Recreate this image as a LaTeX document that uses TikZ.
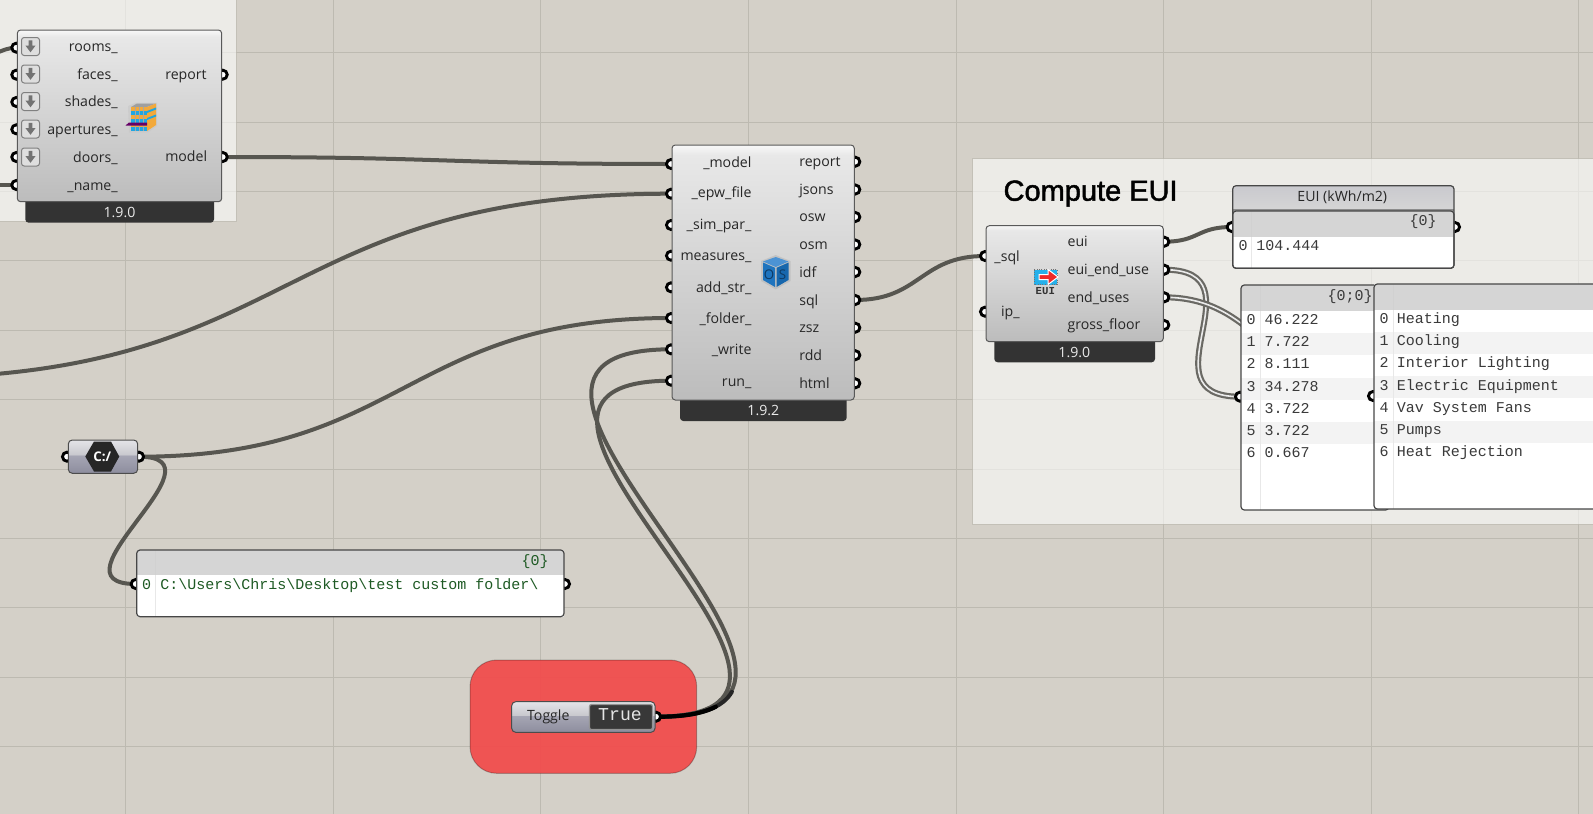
\documentclass[tikz,border=0pt]{standalone}
\usepackage{fontspec}
\setmainfont{Open Sans}
\newfontfamily\monof{Liberation Mono}
\newfontfamily\titlef[FakeBold=1.6]{Liberation Sans}
\usetikzlibrary{calc,shapes.geometric}
\definecolor{canvas}{HTML}{D4D0C8}
\definecolor{gridc}{HTML}{BDBAB1}
\definecolor{wirec}{HTML}{575650}
\definecolor{dwirec}{HTML}{6A6964}
\definecolor{foot}{HTML}{333333}
\definecolor{labc}{HTML}{262626}
\definecolor{monoc}{HTML}{3A3A3A}
\definecolor{greenc}{HTML}{1E5A24}
\definecolor{hdr}{HTML}{D5D5D5}
\definecolor{stripe}{HTML}{F3F3F3}
\definecolor{sep}{HTML}{E0E0E0}
\definecolor{ga}{HTML}{BCBCBC}
\definecolor{gb}{HTML}{E8E8E8}
\definecolor{gc}{HTML}{F8F8F8}
\definecolor{pa}{HTML}{8D8D9E}
\definecolor{pb}{HTML}{A6A6B4}
\definecolor{pc}{HTML}{C9C9CE}
\definecolor{pd}{HTML}{E4E4E8}
\definecolor{redg}{HTML}{F24B4B}
\definecolor{ostop}{HTML}{4C93D4}
\definecolor{osleft}{HTML}{1F74BE}
\definecolor{osright}{HTML}{1767AD}
\definecolor{ostext}{HTML}{0E3A63}
\definecolor{euiblue}{HTML}{25B0EA}
\definecolor{euired}{HTML}{EE2A2A}
\definecolor{bldor}{HTML}{F2A93B}
\definecolor{bldbl}{HTML}{1FA6E2}
\pgfdeclareverticalshading{ghbody}{100bp}{color(0bp)=(ga);color(25bp)=(ga);color(73bp)=(gb);color(75bp)=(gc);color(100bp)=(gc)}
\pgfdeclareverticalshading{ghparam}{100bp}{color(0bp)=(pa);color(25bp)=(pa);color(52bp)=(pb);color(53bp)=(pc);color(75bp)=(pd);color(100bp)=(pd)}
\pgfdeclareverticalshading{ghtitle}{100bp}{color(0bp)=(hdr);color(25bp)=(hdr);color(75bp)=(pc);color(100bp)=(pc)}
\pgfdeclarelayer{gridlayer}
\pgfdeclarelayer{wirelayer}
\pgfsetlayers{gridlayer,wirelayer,main}
\tikzset{
  x=0.75pt,y=-0.75pt,
  px/.style={line width=#1*0.75pt},
  boxbase/.style={rectangle,inner sep=0pt,outer sep=0pt},
  gridline/.style={draw=gridc,px=1},
  groupbox/.style={boxbase,fill=white,fill opacity=0.58,draw=gridc,draw opacity=0.7,px=1},
  redgroup/.style={boxbase,rounded corners=20pt,fill=redg,fill opacity=0.93,draw=black,draw opacity=0.25,px=1},
  compbody/.style={boxbase,rounded corners=2.5pt,shading=ghbody,draw=black!65,px=1},
  footbox/.style={boxbase,rounded corners=2.5pt,fill=foot},
  parambody/.style={boxbase,rounded corners=3pt,shading=ghparam,draw=black!70,px=1},
  panelbody/.style={boxbase,fill=white},
  port/.style={circle,inner sep=0pt,outer sep=0pt,minimum size=6.8pt,fill=white,draw=black,px=2.9},
  lab/.style={font=\fontsize{10.6}{12}\selectfont,text=labc,inner sep=0pt},
  labr/.style={lab,anchor=mid east,yshift=-0.9pt},
  labl/.style={lab,anchor=mid west,yshift=-0.9pt},
  foottext/.style={font=\fontsize{10.6}{12}\selectfont,text=white!92!black,inner sep=0pt},
  mono/.style={font=\monof\fontsize{11.25}{13}\selectfont,text=monoc,inner sep=0pt,yshift=-0.6pt},
  monol/.style={mono,anchor=mid west},
  monoc/.style={mono,anchor=mid},
  gmonol/.style={monol,text=greenc},
  gmonoc/.style={monoc,text=greenc},
  wire/.style={draw=wirec,px=4,line cap=round},
  dwirea/.style={draw=dwirec,px=6},
  dwireb/.style={draw=white!92!black,px=1.6},
  arrowbtn/.style={boxbase,rounded corners=2pt,minimum size=13.5pt,fill=black!13,draw=black!50,px=1},
  titlelab/.style={font=\titlef\fontsize{21.75}{24}\selectfont,text=black,inner sep=0pt,anchor=base west},
}
\newcommand{\placebox}[6]{\node[#1,anchor=north west,minimum width={(#5-#3)*0.75pt},minimum height={(#6-#4)*0.75pt}] (#2) at (#3,#4) {};}
\newcommand{\ghwire}[4][wire]{\draw[#1] (#2.center) .. controls ($(#2.center)+(#4,0)$) and ($(#3.center)+(-#4,0)$) .. (#3.center);}
\newcommand{\dblwire}[3]{\ghwire[dwirea]{#1}{#2}{#3}\ghwire[dwireb]{#1}{#2}{#3}}
\newcommand{\arrowbutton}[2]{%
  \node[arrowbtn] (#1) at (30.5,#2) {};
  \fill[black!55] ($(#1.center)+(-1.9,-6.2)$) -- ++(3.8,0) -- ++(0,5.2) -- ++(3.2,0) -- ++(-5.1,6.8) -- ++(-5.1,-6.8) -- ++(3.2,0) -- cycle;
}
\newcommand{\panelbg}[7]{%
  \placebox{panelbody}{#1}{#2}{#3}{#4}{#5}
  \begin{scope}
    \clip[rounded corners=2.5pt] (#2,#3) rectangle (#4,#5);
    \fill[hdr] (#2,#3) rectangle (#4,#7);
}
\newcommand{\panelend}[6]{%
    \draw[black!9,px=1.4] (#5,#6) -- (#5,#4);
    \draw[black!18,px=1.4] (#5,#2) -- (#5,#6);
  \end{scope}
  \draw[black!72,px=1.2,rounded corners=2.5pt] (#1,#2) rectangle (#3,#4);
}
\begin{document}
\begin{tikzpicture}
\useasboundingbox (0,0) rectangle (1593,814);
\begin{pgfonlayer}{gridlayer}
  \fill[canvas] (0,0) rectangle (1593,814);
  \foreach \gx in {125.5,333,540.5,748,956,1163.5,1371,1578.5} \draw[gridline] (\gx,0) -- (\gx,814);
  \foreach \gy in {52.7,122.1,191.5,260.9,330.3,399.7,469.1,538.5,607.9,677.3,746.7} \draw[gridline] (0,\gy) -- (1593,\gy);
  \placebox{groupbox}{grpa}{-10}{-10}{236}{221}
  \placebox{groupbox}{grpb}{972.7}{158.5}{1610}{524.3}
  \placebox{redgroup}{grpc}{470}{660}{696.7}{773.3}
\end{pgfonlayer}

\node[titlelab] (ttl) at (1003.3,200.7) {Compute EUI};

% ---------- component 1
\placebox{footbox}{fa}{25.3}{190}{214}{222.7}
\foreach \n/\py in {ra/47.7,rb/74.7,rc/102,rd/129.3,re/157,rf/185} \node[port] (\n) at (16.3,\py) {};
\node[port] (ro1) at (222.7,74.7) {};
\node[port] (ro2) at (222.7,157) {};
\placebox{compbody}{ca}{17.3}{30}{221.7}{201.7}
\node[foottext] (fat) at (119.5,212) {1.9.0};
\arrowbutton{ba1}{46.5}
\arrowbutton{ba2}{74}
\arrowbutton{ba3}{101.5}
\arrowbutton{ba4}{129}
\arrowbutton{ba5}{157}
\node[labr] (la1) at (118,47) {rooms\_};
\node[labr] (la2) at (118,74.5) {faces\_};
\node[labr] (la3) at (118,102) {shades\_};
\node[labr] (la4) at (118,130) {apertures\_};
\node[labr] (la5) at (118,157.5) {doors\_};
\node[labr] (la6) at (118,185.5) {\_name\_};
\node[labl] (la7) at (165,74.5) {report};
\node[labl] (la8) at (165,157) {model};
% building icon
\fill[black!25,opacity=.35] (128,106) -- (136,102.5) -- (157,102.5) -- (157,126) -- (148,132.5) -- (129,132.5) -- cycle;
\fill[gray!75] (131,107) -- (137,103.5) -- (156,103.5) -- (147,107) -- cycle;
\foreach \yy/\cc in {107/bldor,111/bldbl,115/bldor,119/bldbl,123/bldor,127/bldbl}{
  \fill[\cc] (131,\yy) rectangle (147,\yy+4);
}
\fill[bldor] (147,107) -- (156,103.5) -- (156,125) -- (147,131) -- cycle;
\fill[bldbl] (147,111) -- (156,107.5) -- (156,109.5) -- (147,113) -- cycle;
\fill[bldbl] (147,118) -- (156,114.5) -- (156,116.5) -- (147,120) -- cycle;
\foreach \xx in {135,139,143} \draw[black!35,px=.6] (\xx,107) -- (\xx,131);
\fill[violet!80!black] (125.5,125.5) -- (129,122.5) -- (147,122.5) -- (147,125.5) -- cycle;

% ---------- component 2
\placebox{footbox}{fb}{680}{390}{846.7}{421}
\foreach \n/\py in {ia/164,ib/193.7,ic/225,id/255.7,ie/287.3,if/318,ig/349.3,ih/380.7} \node[port] (\n) at (671,\py) {};
\foreach \n/\py in {oa/161.7,ob/189.5,oc/217,od/244.5,oe/272,of/300,og/327.7,oh/355.2,oi/383.3} \node[port] (\n) at (855.3,\py) {};
\placebox{compbody}{cb}{672}{145}{854.3}{400}
\node[foottext] (fbt) at (763.3,410.5) {1.9.2};
\node[labr] (lb1) at (751.7,163) {\_model};
\node[labr] (lb2) at (751.7,193) {\_epw\_file};
\node[labr] (lb3) at (751.7,225) {\_sim\_par\_};
\node[labr] (lb4) at (751.7,256) {measures\_};
\node[labr] (lb5) at (751.7,288) {add\_str\_};
\node[labr] (lb6) at (751.7,319) {\_folder\_};
\node[labr] (lb7) at (751.7,350) {\_write};
\node[labr] (lb8) at (751.7,381.5) {run\_};
\node[labl] (lo1) at (799,162) {report};
\node[labl] (lo2) at (799,189.5) {jsons};
\node[labl] (lo3) at (799,217) {osw};
\node[labl] (lo4) at (799,245) {osm};
\node[labl] (lo5) at (799,272.5) {idf};
\node[labl] (lo6) at (799,300.5) {sql};
\node[labl] (lo7) at (799,328) {zsz};
\node[labl] (lo8) at (799,355.5) {rdd};
\node[labl] (lo9) at (799,383.5) {html};
% OS cube icon
\fill[black!30,opacity=.5] (775.7,255) -- (790.5,261) -- (790.5,281) -- (775.7,289.5) -- (761,281) -- (761,261) -- cycle;
\fill[ostop] (775.7,257) -- (788.5,261.5) -- (775.7,267) -- (763,261.5) -- cycle;
\fill[osleft] (763,262.5) -- (775,267.8) -- (775,287) -- (763,280) -- cycle;
\fill[osright] (776.5,267.8) -- (788.5,262.5) -- (788.5,280) -- (776.5,287) -- cycle;
\node[font=\fontsize{10}{11}\selectfont,text=ostext,inner sep=0pt] (osa) at (769,275) {O};
\node[font=\fontsize{10}{11}\selectfont,text=ostext,inner sep=0pt] (osb) at (782.5,275) {S};

% ---------- component 3
\placebox{footbox}{fc}{994.3}{330}{1155}{362.3}
\node[port] (ja) at (985,256) {};
\node[port] (jb) at (985,311.7) {};
\foreach \n/\py in {ka/241.7,kb/269.7,kc/297.3,kd/325} \node[port] (\n) at (1164.3,\py) {};
\placebox{compbody}{cc}{986}{225.7}{1163.3}{341.7}
\node[foottext] (fct) at (1074.3,352) {1.9.0};
\node[labr] (lc1) at (1020,256.5) {\_sql};
\node[labr] (lc2) at (1020,312) {ip\_};
\node[labl] (lc3) at (1067.3,241.5) {eui};
\node[labl] (lc4) at (1067.3,270) {eui\_end\_use};
\node[labl] (lc5) at (1067.3,297.5) {end\_uses};
\node[labl] (lc6) at (1067.3,325) {gross\_floor};
% EUI icon
\fill[euiblue] (1034,269.5) rectangle (1057,284.5);
\draw[black!55,px=1,densely dotted] (1034,269.5) rectangle (1057,284.5);
\filldraw[fill=euired,draw=white,px=1] (1039,274.5) -- (1048,274.5) -- (1048,269.5) -- (1058,277) -- (1048,284.5) -- (1048,279.5) -- (1039,279.5) -- cycle;
\node[font=\monof\bfseries\fontsize{8}{9}\selectfont,text=black!80,inner sep=0pt] (euit) at (1045.3,291.5) {EUI};

% ---------- EUI panel
\node[port] (pa1) at (1231.7,227) {};
\node[port] (pa2) at (1455,227) {};
\panelbg{pna}{1232.7}{185.7}{1454}{268.3}{1251.7}{236.7}
  \fill[shading=ghtitle] (1232.7,185.7) rectangle (1454,209);
  \fill[black!45] (1232.7,209) rectangle (1454,211);
\panelend{1232.7}{211}{1454}{268.3}{1251.7}{236.7}
\draw[black!72,px=1.2,rounded corners=2.5pt] (1232.7,185.7) rectangle (1454,268.3);
\node[lab,anchor=mid] (pat) at (1342.3,197.7) {EUI (kWh/m2)};
\node[monoc] (pa0) at (1423,221) {\{0\}};
\node[monoc] (pai) at (1243,245.7) {0};
\node[monol] (pav) at (1256,245.7) {104.444};

% ---------- values panel
\node[port] (pb1) at (1240,396.7) {};
\panelbg{pnb}{1241}{285}{1389}{510}{1260.7}{310.7}
  \foreach \yy in {333,377.5,422} \fill[stripe] (1241,\yy) rectangle (1389,\yy+22.3);
\panelend{1241}{285}{1389}{510}{1260.7}{310.7}
\node[mono,anchor=mid east] (pb0) at (1373,296) {\{0;0\}};
\foreach \i/\ry/\vv in {0/320/46.222,1/342/7.722,2/364.5/8.111,3/386.7/34.278,4/408.7/3.722,5/431/3.722,6/453/0.667}{
  \node[monoc] (pbi\i) at (1251,\ry) {\i};
  \node[monol] (pbv\i) at (1264.3,\ry) {\vv};
}

% ---------- names panel
\node[port] (pc1) at (1373,396) {};
\panelbg{pnc}{1374}{284}{1620}{509}{1393.3}{310}
  \foreach \yy in {332,376,420.5} \fill[stripe] (1374,\yy) rectangle (1620,\yy+22.3);
\panelend{1374}{284}{1620}{509}{1393.3}{310}
\foreach \i/\ry/\vv in {0/319/Heating,1/341.3/Cooling,2/363.3/Interior Lighting,3/385.7/Electric Equipment,4/407.7/Vav System Fans,5/430/Pumps,6/452/Heat Rejection}{
  \node[monoc] (pci\i) at (1384,\ry) {\i};
  \node[monol] (pcv\i) at (1396.7,\ry) {\vv};
}

% ---------- path parameter
\node[port] (qa) at (67,456.7) {};
\node[port] (qb) at (139,456.7) {};
\placebox{parambody}{qq}{68.3}{440}{137.7}{473.3}
\fill[black!85] (85.3,456.5) -- (94,441.5) -- (111,441.5) -- (119.3,456.5) -- (111,471.5) -- (94,471.5) -- cycle;
\node[font=\bfseries\fontsize{10}{11}\selectfont,text=white,inner sep=0pt] (qt) at (102.3,457) {C:/};

% ---------- path panel
\node[port] (pd1) at (135.7,584) {};
\node[port] (pd2) at (565,584) {};
\panelbg{pnd}{136.7}{550}{564}{616.7}{155.7}{575}
\panelend{136.7}{550}{564}{616.7}{155.7}{575}
\node[gmonoc] (pd0) at (535,560.7) {\{0\}};
\node[gmonoc] (pdi) at (146.7,585) {0};
\node[gmonol] (pdv) at (160,585) {C:\textbackslash Users\textbackslash Chris\textbackslash Desktop\textbackslash test custom folder\textbackslash};

% ---------- toggle
\node[port] (ta) at (656,716.7) {};
\placebox{parambody}{tb}{511.7}{701.7}{655}{732.3}
\node[lab,anchor=mid,yshift=-0.6pt] (tl) at (548.3,716.5) {Toggle};
\placebox{boxbase,rounded corners=1.5pt,fill=black!78,draw=black!42,px=1.2}{tc}{589.5}{704.5}{652.5}{729.5}
\node[mono,font=\monof\fontsize{13.6}{15}\selectfont,text=white!90!black,anchor=mid] (tt) at (620,716) {True};

% ---------- wires
\coordinate (srca) at (-100,378);
\coordinate (srcb) at (-30,60);
\coordinate (srcc) at (-30,185);
\coordinate (tdarka) at (731.9,691.8);
\coordinate (tdarkb) at (715.8,706.7);
\begin{pgfonlayer}{wirelayer}
  \draw[wire] (srcb) .. controls (-10,60) and (0,47.7) .. (ra.center);
  \draw[wire] (srcc) -- (rf.center);
  \ghwire{ro2}{ia}{225}
  \ghwire{srca}{ib}{400}
  \ghwire{qb}{if}{265}
  \ghwire{qb}{pd1}{92}
  \ghwire{ta}{ig}{270}
  \ghwire{ta}{ih}{250}
  \draw[draw=black!85,px=4,line cap=round] (ta.center) .. controls (700.2,717) and (723,707.6) .. (tdarka);
  \draw[draw=black,px=4.2,line cap=round] (ta.center) .. controls (684,717) and (703,713.3) .. (tdarkb);
  \ghwire{of}{ja}{65}
  \ghwire{ka}{pa1}{35}
  \dblwire{kb}{pb1}{100}
  \dblwire{kc}{pc1}{100}
\end{pgfonlayer}
\end{tikzpicture}
\end{document}
